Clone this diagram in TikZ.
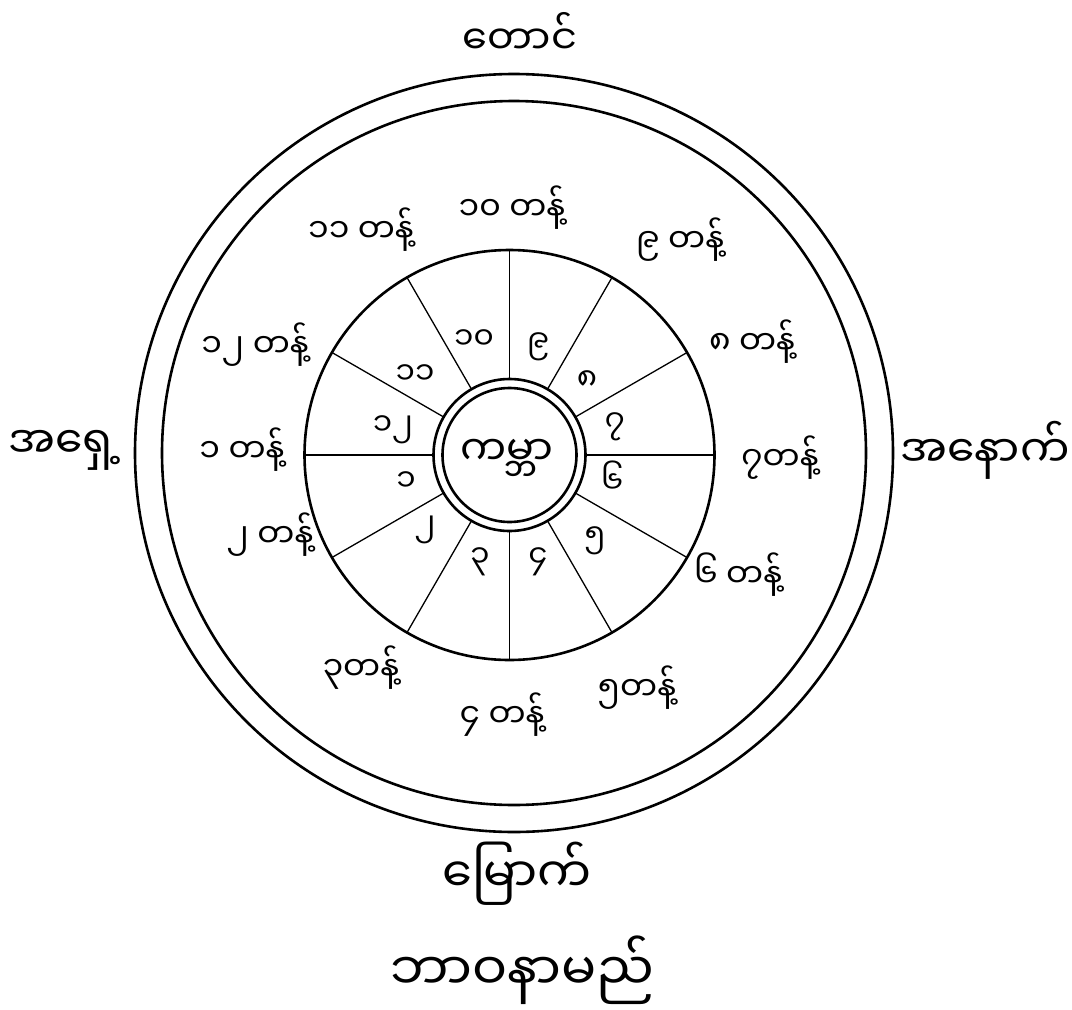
\documentclass[tikz,border=0pt]{standalone}
\usepackage{fontspec}
\newfontfamily\mm[Script=Myanmar]{Noto Sans Myanmar UI}
\begin{document}
\begin{tikzpicture}[x=1pt,y=-1pt,
  ring/.style={line width=2.6pt},
  spoke/.style={line width=1.3pt},
  lbl/.style={font=\mm\fontsize{33}{36}\selectfont, inner sep=0pt},
  num/.style={font=\mm\fontsize{31}{34}\selectfont, inner sep=0pt},
  dir/.style={font=\mm\fontsize{#1}{#1}\selectfont, inner sep=0pt},
]
\useasboundingbox (0,0) rectangle (1072,1010);
\fill[white] (0,0) rectangle (1072,1010);
\coordinate (O) at (514,453);
\coordinate (C) at (509.5,455);
\draw[ring] (O) circle[radius=379];
\draw[ring] (O) circle[radius=352];
\draw[ring] (C) circle[radius=205];
\draw[ring] (C) circle[radius=76];
\draw[ring] (C) circle[radius=67];
\foreach \a in {0,30,...,330} \draw[spoke, shift={(C)}] (\a:76) -- (\a:205);
% directions
\node[dir=40] (south) at (520,33) {တောင်};
\node[dir=44] (east) at (65,450) {အရှေ့};
\node[dir=44] (west) at (985,450) {အနောက်};
\node[dir=48] (north) at (517,874) {မြောက်};
\node[dir=52] (title) at (522,970) {ဘာဝနာမည်};
\node[dir=41] (world) at (507,458) {ကမ္ဘာ};
% inner numbers
\node[num] (n1) at (406,482) {၁};
\node[num] (n2) at (425,530) {၂};
\node[num] (n3) at (480,562) {၃};
\node[num] (n4) at (538,562) {၄};
\node[num] (n5) at (595,541) {၅};
\node[num] (n6) at (612,477) {၆};
\node[num] (n7) at (615,427) {၇};
\node[num] (n8) at (587,381) {၈};
\node[num] (n9) at (538,347) {၉};
\node[num] (n10) at (474,340) {၁၀};
\node[num] (n11) at (415,375) {၁၁};
\node[num] (n12) at (393,430) {၁၂};
% houses
\node[lbl] (h1) at (242,450) {၁ တန့်};
\node[lbl] (h2) at (270,535) {၂ တန့်};
\node[lbl] (h3) at (361,668) {၃တန့်};
\node[lbl] (h4) at (502,715) {၄ တန့်};
\node[lbl] (h5) at (637,688) {၅တန့်};
\node[lbl] (h6) at (738,575) {၆ တန့်};
\node[lbl] (h7) at (780,458) {၇တန့်};
\node[lbl] (h8) at (752,342) {၈ တန့်};
\node[lbl] (h9) at (680,240) {၉ တန့်};
\node[lbl] (h10) at (512,208) {၁၀ တန့်};
\node[lbl] (h11) at (361,230) {၁၁ တန့်};
\node[lbl] (h12) at (255,345) {၁၂ တန့်};
\end{tikzpicture}
\end{document}
